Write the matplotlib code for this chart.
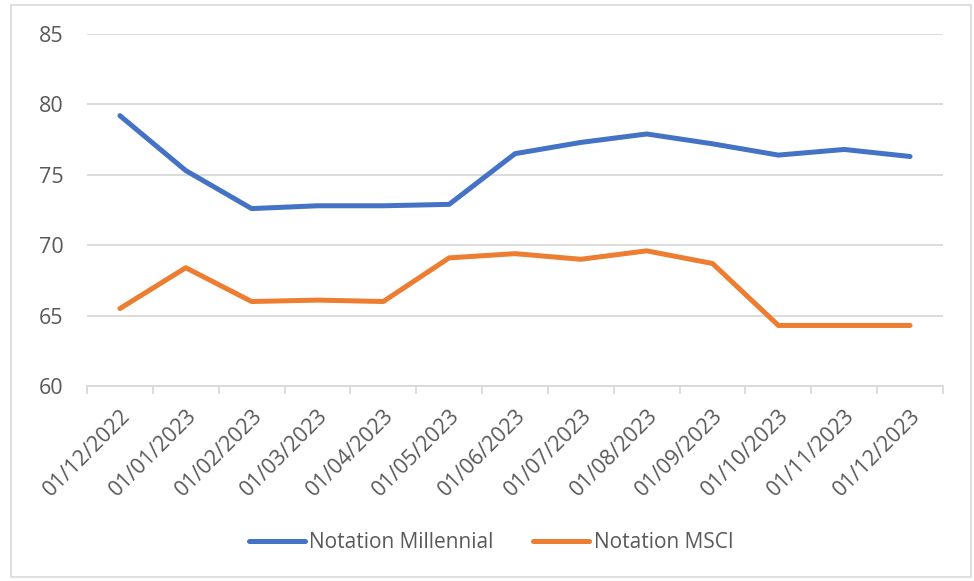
import matplotlib as mpl
import matplotlib.pyplot as plt
import numpy as np
from matplotlib.patches import Rectangle

mpl.rc('font', family=['Open Sans', 'DejaVu Sans'])

dates = ['01/12/2022', '01/01/2023', '01/02/2023', '01/03/2023', '01/04/2023',
         '01/05/2023', '01/06/2023', '01/07/2023', '01/08/2023', '01/09/2023',
         '01/10/2023', '01/11/2023', '01/12/2023']
millennial = [79.2, 75.3, 72.6, 72.8, 72.8, 72.9, 76.5, 77.3, 77.9, 77.2, 76.4, 76.8, 76.3]
msci = [65.5, 68.4, 66.0, 66.1, 66.0, 69.1, 69.4, 69.0, 69.6, 68.7, 64.3, 64.3, 64.3]
series_names = ['Notation Millennial', 'Notation MSCI']

grey = '#595959'
grid = '#d9d9d9'

fig = plt.figure(figsize=(9.74, 5.81), dpi=100)
ax = fig.add_axes([87/974, 1-386/581, (943-87)/974, (386-34)/581])

x = np.arange(len(dates))
ax.plot(x, millennial, color='#4472C4', lw=3.6, solid_capstyle='round',
        solid_joinstyle='round', label=series_names[0])
ax.plot(x, msci, color='#ED7D31', lw=3.6, solid_capstyle='round',
        solid_joinstyle='round', label=series_names[1])

ax.set_xlim(-0.5, len(dates) - 0.5)
ax.set_ylim(60, 85)
ax.set_yticks(range(60, 86, 5))
ax.yaxis.grid(True, color=grid, lw=1.3)
ax.set_axisbelow(True)

for s in ['top', 'right', 'left']:
	ax.spines[s].set_visible(False)
ax.spines['bottom'].set_color(grid)
ax.spines['bottom'].set_linewidth(1.3)

ax.set_xticks(x)
ax.set_xticklabels(dates, rotation=45, ha='right', rotation_mode='anchor',
                   fontsize=15.5, color=grey)
ax.tick_params(axis='x', which='major', length=0, pad=14)
ax.set_xticks(np.arange(-0.5, len(dates)), minor=True)
ax.tick_params(axis='x', which='minor', length=6, color=grid, width=1.3)
ax.tick_params(axis='y', length=0, pad=17, labelsize=15.5, labelcolor=grey)

leg = ax.legend(loc='center', bbox_to_anchor=(491/974, 1-543/581),
                bbox_transform=fig.transFigure, ncol=2, frameon=False,
                fontsize=15, handlelength=2.7, handletextpad=0.2,
                columnspacing=1.9)
for t in leg.get_texts():
	t.set_color(grey)

fig.patches.append(Rectangle((11/974, 4/581), 960/974, 572/581, transform=fig.transFigure,
                             fill=False, edgecolor='#d9d9d9', lw=1.2))

fig.savefig('out.png', dpi=100)
